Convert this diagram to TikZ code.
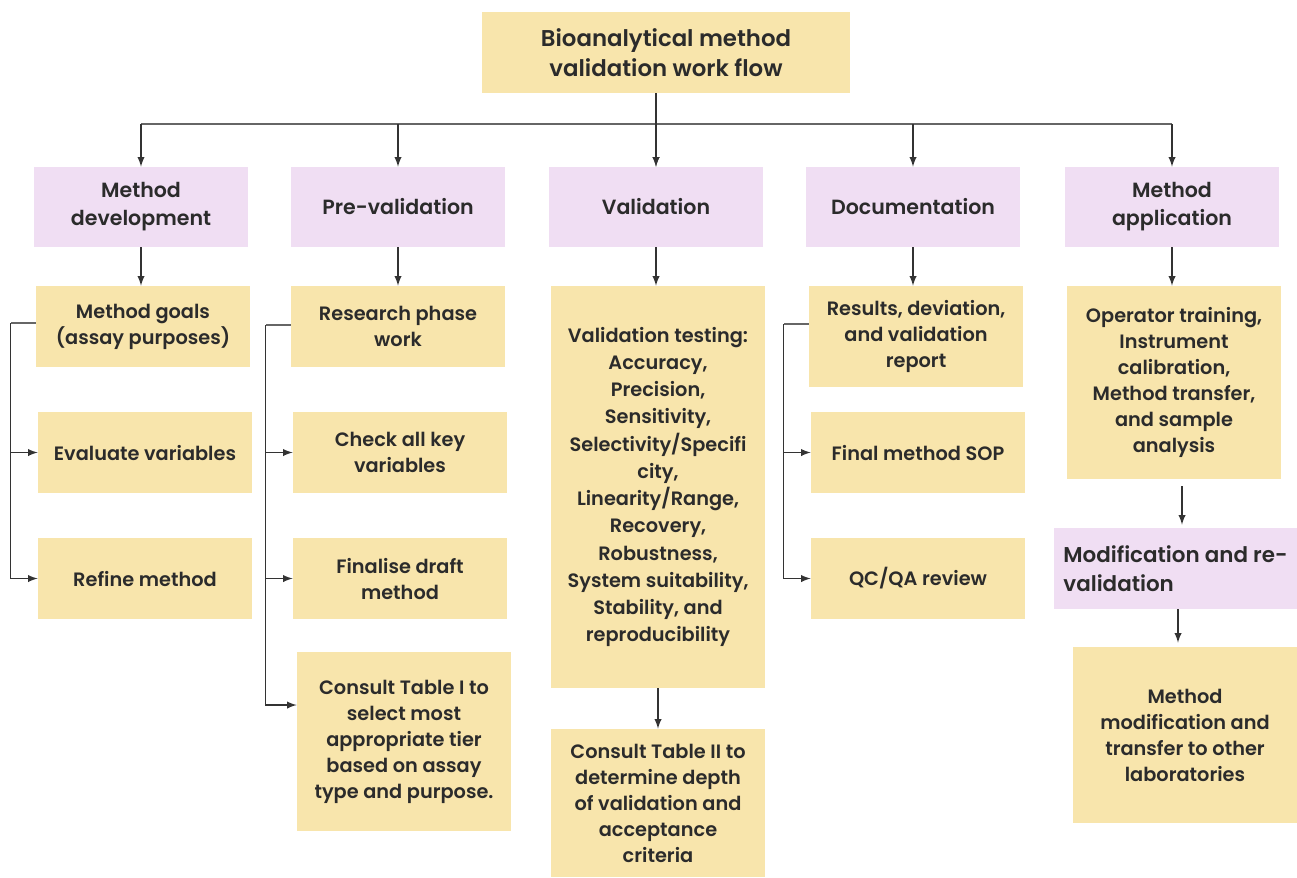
\documentclass[tikz,border=0pt]{standalone}
\usepackage{fontspec}
\setmainfont{Poppins}[BoldFont={Poppins SemiBold}]
\usepackage{tikz}

\definecolor{boxyellow}{HTML}{F8E5AC}
\definecolor{boxlilac}{HTML}{F0DEF3}
\definecolor{textgray}{HTML}{2B2B2B}
\definecolor{arrowgray}{HTML}{333333}
\definecolor{linegray}{HTML}{666666}

\tikzset{
	box/.style={fill=boxyellow, text=textgray, align=center, inner sep=2pt,
		font=\bfseries\fontsize{11}{14.8}\selectfont,
		minimum width=4.28cm, minimum height=1.62cm},
	head/.style={box, fill=boxlilac, font=\bfseries\fontsize{11.7}{16}\selectfont},
	arr/.style={draw=arrowgray, -latex, line width=0.9pt},
	bar/.style={draw=linegray, line width=0.8pt},
}

\begin{document}
\begin{tikzpicture}[x=0.02cm, y=-0.02cm]
		\useasboundingbox (0,0) rectangle (1297,877);
		% title
		\node[box, minimum width=7.36cm, font=\bfseries\fontsize{13}{17}\selectfont] (top) at (666,52.5) {Bioanalytical method\\validation work flow};
		% stage headers
		\node[head, minimum height=1.6cm] (md) at (141,207) {Method\\development};
		\node[head, minimum height=1.6cm] (pv) at (398,207) {Pre-validation};
		\node[head, minimum height=1.6cm] (val) at (656,207) {Validation};
		\node[head, minimum height=1.6cm] (doc) at (913,207) {Documentation};
		\node[head, minimum height=1.6cm] (ma) at (1172,207) {Method\\application};
		% method development
		\node[box] (mg) at (143,326.5) {Method goals\\(assay purposes)};
		\node[box] (ev) at (145,452.5) {Evaluate variables};
		\node[box] (rm) at (145,578.5) {Refine method};
		% pre-validation
		\node[box] (rp) at (398,326.5) {Research phase\\work};
		\node[box] (ck) at (400,452.5) {Check all key\\variables};
		\node[box] (fd) at (400,578.5) {Finalise draft\\method};
		\node[box, minimum height=3.58cm] (ct1) at (404,741.5) {Consult Table I to\\select most\\appropriate tier\\based on assay\\type and purpose.};
		% validation
		\node[box, minimum height=8.04cm, font=\bfseries\fontsize{11}{15.5}\selectfont] (vt) at (658,487) {Validation testing:\\Accuracy,\\Precision,\\Sensitivity,\\Selectivity/Specifi\\city,\\Linearity/Range,\\Recovery,\\Robustness,\\System suitability,\\Stability, and\\reproducibility};
		\node[box, minimum height=2.96cm] (ct2) at (658,803) {Consult Table II to\\determine depth\\of validation and\\acceptance\\criteria};
		% documentation
		\node[box, minimum height=2.02cm] (res) at (916,336.5) {Results, deviation,\\and validation\\report};
		\node[box] (sop) at (918,452.5) {Final method SOP};
		\node[box] (qc) at (918,578.5) {QC/QA review};
		% method application
		\node[box, minimum height=3.86cm] (op) at (1174,382.5) {Operator training,\\Instrument\\calibration,\\Method transfer,\\and sample\\analysis};
		\node[head, minimum width=4.86cm, align=left, font=\bfseries\fontsize{12.2}{16.5}\selectfont] (mod) at (1175.5,568.5) {Modification and re-\\validation};
		\node[box, minimum width=4.48cm, minimum height=3.52cm] (mm) at (1185,735) {Method\\modification and\\transfer to other\\laboratories};
		% connectors
		\coordinate (bus) at (0,124);
		\draw[bar] (md.north |- bus) -- (ma.north |- bus);
		\draw[arr] (top.south -| val.north) -- (val.north);
		\foreach \n in {md,pv,val,doc,ma}
			\draw[arr] (\n.north |- bus) -- (\n.north);
		\draw[arr] (md.south) -- (md.south |- mg.north);
		\draw[arr] (pv.south) -- (pv.south |- rp.north);
		\draw[arr] (val.south) -- (val.south |- vt.north);
		\draw[arr] (doc.south) -- (doc.south |- res.north);
		\draw[arr] (ma.south) -- (ma.south |- op.north);
		\draw[bar] ([yshift=0.07cm]mg.west) -- ++(-25,0) coordinate (b1);
		\draw[arr] (b1) |- (ev.west);
		\draw[arr] (b1) |- (rm.west);
		\draw[bar] ([yshift=0.03cm]rp.west) -- ++(-25,0) coordinate (b2);
		\draw[arr] (b2) |- (ck.west);
		\draw[arr] (b2) |- (fd.west);
		\draw[arr] (b2) |- ([yshift=0.73cm]ct1.west);
		\draw[bar] ([yshift=0.25cm]res.west) -- ++(-25,0) coordinate (b4);
		\draw[arr] (b4) |- (sop.west);
		\draw[arr] (b4) |- (qc.west);
		\draw[arr] (vt.south) -- (ct2.north);
		\draw[arr, shorten <=0.14cm, shorten >=0.06cm] ([xshift=0.16cm]op.south) -- ([xshift=0.16cm]op.south |- mod.north);
		\draw[arr, shorten >=0.08cm] ([xshift=0.05cm]mod.south) -- ([xshift=0.05cm]mod.south |- mm.north);
	\end{tikzpicture}
\end{document}
